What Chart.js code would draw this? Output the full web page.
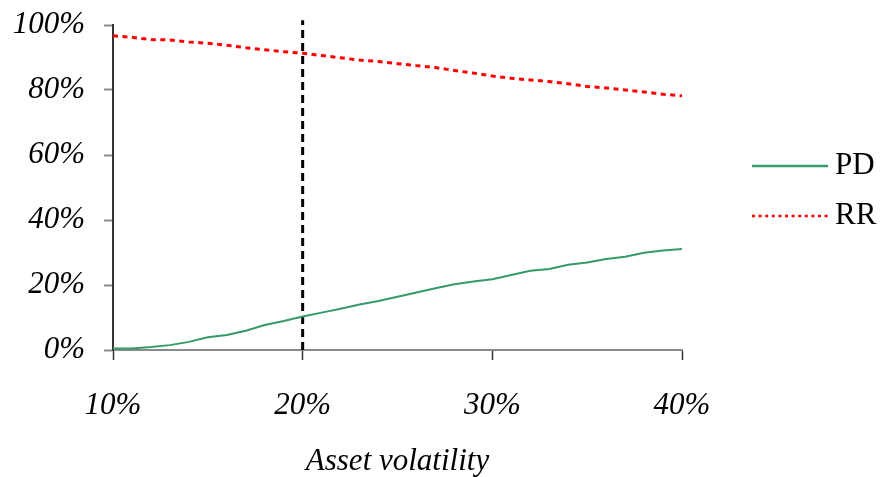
<!DOCTYPE html>
<html>
<head>
<meta charset="utf-8">
<script src="https://cdn.jsdelivr.net/npm/chart.js@4.4.1/dist/chart.umd.min.js"></script>
<style>
  html, body { margin: 0; padding: 0; background: #fff; }
  #wrap { width: 883px; height: 477px; }
</style>
</head>
<body>
<div id="wrap"><canvas id="chartCanvas" width="883" height="477"></canvas></div>
<script>
// asset volatility (%), one point per percent
const volatility = [10, 11, 12, 13, 14, 15, 16, 17, 18, 19, 20, 21, 22, 23, 24, 25,
  26, 27, 28, 29, 30, 31, 32, 33, 34, 35, 36, 37, 38, 39, 40];
// probability of default (%)
const pdValues = [0.5, 0.5, 0.9, 1.5, 2.5, 3.9, 4.6, 5.9, 7.7, 8.9, 10.3, 11.5, 12.7, 14.0, 15.1, 16.4,
  17.7, 19.0, 20.2, 21.1, 21.8, 23.1, 24.4, 24.9, 26.2, 26.9, 28.0, 28.7, 29.9, 30.6, 31.1];
// recovery rate (%)
const rrValues = [96.7, 96.2, 95.5, 95.4, 94.8, 94.4, 93.8, 93.0, 92.4, 91.8, 91.3, 90.6, 89.9, 89.2, 88.8, 88.1,
  87.5, 86.9, 86.0, 85.2, 84.3, 83.6, 83.1, 82.6, 81.9, 81.1, 80.6, 80.0, 79.4, 78.7, 78.2];
// marker at 20% volatility
const markerX = 20;
const markerY = [0, 101.5];

const xTicks = [10, 20, 30, 40];
const yTicks = [0, 20, 40, 60, 80, 100];

const serif = "'Liberation Serif', 'DejaVu Serif', serif";
const greenColor = "#349a6a";
const redColor = "#ff0000";

// legend drawn by hand, to the right of the plot
const sideLegend = {
  id: "sideLegend",
  afterDraw(chart) {
    const c = chart.ctx;
    const items = [
      { label: "PD", color: greenColor, dash: [], width: 2.5, y: 166 },
      { label: "RR", color: redColor, dash: [3, 3.6], width: 2.5, y: 216 },
    ];
    c.save();
    items.forEach((it) => {
      c.beginPath();
      c.setLineDash(it.dash);
      c.strokeStyle = it.color;
      c.lineWidth = it.width;
      c.moveTo(752, it.y);
      c.lineTo(828, it.y);
      c.stroke();
      c.setLineDash([]);
      c.fillStyle = "#000";
      c.font = "31px " + serif;
      c.textBaseline = "middle";
      c.fillText(it.label, 835, it.y);
    });
    c.restore();
  },
};

const ctx = document.getElementById("chartCanvas").getContext("2d");

new Chart(ctx, {
  type: "line",
  data: {
    datasets: [
      {
        label: "PD",
        data: volatility.map((v, i) => ({ x: v, y: pdValues[i] })),
        borderColor: greenColor,
        borderWidth: 2,
        pointRadius: 0,
        tension: 0,
      },
      {
        label: "RR",
        data: volatility.map((v, i) => ({ x: v, y: rrValues[i] })),
        borderColor: redColor,
        borderWidth: 3,
        borderDash: [5, 4.5],
        pointRadius: 0,
        tension: 0,
      },
      {
        label: "marker",
        data: markerY.map((y) => ({ x: markerX, y: y })),
        borderColor: "#000",
        borderWidth: 3,
        borderDash: [8, 5],
        pointRadius: 0,
        clip: false,
      },
    ],
  },
  options: {
    responsive: false,
    animation: false,
    layout: { padding: { top: 25, right: 201, left: 0, bottom: 0 } },
    plugins: {
      legend: { display: false },
      tooltip: { enabled: false },
    },
    scales: {
      x: {
        type: "linear",
        min: 10,
        max: 40,
        afterBuildTicks: (s) => { s.ticks = xTicks.map((v) => ({ value: v })); },
        afterFit: (s) => { s.height = 127; },
        border: { color: "#8a8a8a", width: 2 },
        grid: { drawOnChartArea: false, tickLength: 10, tickColor: "#333", tickWidth: 1.5 },
        ticks: {
          color: "#000",
          padding: 27,
          maxRotation: 0,
          font: { family: serif, size: 31, style: "italic" },
          callback: (v) => v + "%",
        },
        title: {
          display: true,
          text: "Asset volatility",
          color: "#000",
          padding: { top: 0, bottom: 0 },
          font: { family: serif, size: 31, style: "italic", lineHeight: 1.0 },
        },
      },
      y: {
        min: 0,
        max: 100,
        afterBuildTicks: (s) => { s.ticks = yTicks.map((v) => ({ value: v })); },
        afterFit: (s) => {
          s.width = 113;
          s.paddingTop = 0;
          s.paddingBottom = 0;
        },
        border: { color: "#333", width: 2 },
        grid: { drawOnChartArea: false, tickLength: 9, tickColor: "#8a8a8a", tickWidth: 2 },
        ticks: {
          color: "#000",
          padding: 19,
          font: { family: serif, size: 31, style: "italic" },
          callback: (v) => v + "%",
        },
      },
    },
  },
  plugins: [sideLegend],
});
</script>
</body>
</html>
